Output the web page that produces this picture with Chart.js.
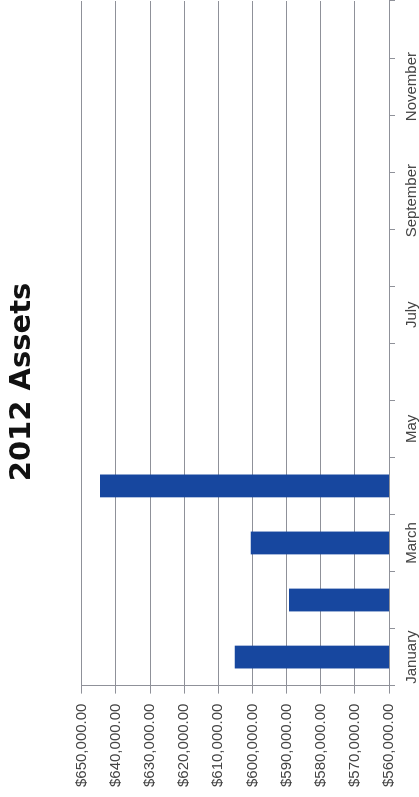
<!DOCTYPE html>
<html>
<head>
<meta charset="utf-8">
<title>2012 Assets</title>
<script src="https://cdn.jsdelivr.net/npm/chart.js@4/dist/chart.umd.min.js"></script>
<style>
    html, body {
        margin: 0;
        padding: 0;
        background: #ffffff;
        overflow: hidden;
    }
    #wrap {
        position: absolute;
        left: 0;
        top: 0;
        width: 797px;
        height: 430px;
        transform-origin: 0 0;
        transform: translate(0, 797px) rotate(-90deg);
    }
</style>
</head>
<body>
<div id="wrap">
    <canvas id="assets-chart" width="797" height="430"></canvas>
</div>
<script>
const months = ['January', 'February', 'March', 'April', 'May', 'June',
    'July', 'August', 'September', 'October', 'November', 'December'];
const assets = [605200, 589300, 600500, 644700, null, null, null, null, null, null, null, null];
const valueMin = 560000;
const valueMax = 650000;
const valueStep = 10000;

// the title in the picture sits a bit off the canvas centre
const titleShift = {
    id: 'titleShift',
    afterLayout: (chart) => {
        if (chart.titleBlock) {
            chart.titleBlock.left += 34;
        }
    }
};

document.addEventListener('DOMContentLoaded', () => {
    renderAssetsChart();
});

function renderAssetsChart() {
    const ctx = document.getElementById('assets-chart');

    new Chart(ctx, {
        type: 'bar',
        data: {
            labels: months,
            datasets: [{
                label: 'Assets',
                data: assets,
                backgroundColor: '#17479f',
                borderWidth: 0,
                barPercentage: 0.5,
                categoryPercentage: 0.8
            }]
        },
        plugins: [titleShift],
        options: {
            responsive: false,
            animation: false,
            layout: {
                padding: { left: 0, right: 1, top: 0, bottom: 1 }
            },
            plugins: {
                legend: {
                    display: false
                },
                tooltip: {
                    enabled: false
                },
                title: {
                    display: true,
                    text: '2012 Assets',
                    color: '#111111',
                    font: {
                        family: 'DejaVu Sans',
                        size: 29,
                        weight: 'bold'
                    },
                    padding: { top: 5, bottom: 42 }
                }
            },
            scales: {
                x: {
                    border: {
                        color: '#8f9199'
                    },
                    grid: {
                        drawOnChartArea: false,
                        drawTicks: true,
                        tickLength: 6,
                        color: '#8f9199'
                    },
                    ticks: {
                        autoSkip: false,
                        maxRotation: 0,
                        minRotation: 0,
                        padding: 8,
                        color: '#444444',
                        font: {
                            family: 'Liberation Sans',
                            size: 15
                        },
                        callback: (value, index) => {
                            return index % 2 === 0 ? months[index] : '';
                        }
                    }
                },
                y: {
                    min: valueMin,
                    max: valueMax,
                    border: {
                        color: '#8f9199'
                    },
                    grid: {
                        color: '#8f9199',
                        tickLength: 8
                    },
                    ticks: {
                        stepSize: valueStep,
                        padding: 10,
                        color: '#444444',
                        font: {
                            family: 'Liberation Sans',
                            size: 15
                        },
                        callback: (value) => {
                            return '$' + value.toLocaleString('en-US', { minimumFractionDigits: 2, maximumFractionDigits: 2 });
                        }
                    }
                }
            }
        }
    });
}
</script>
</body>
</html>
